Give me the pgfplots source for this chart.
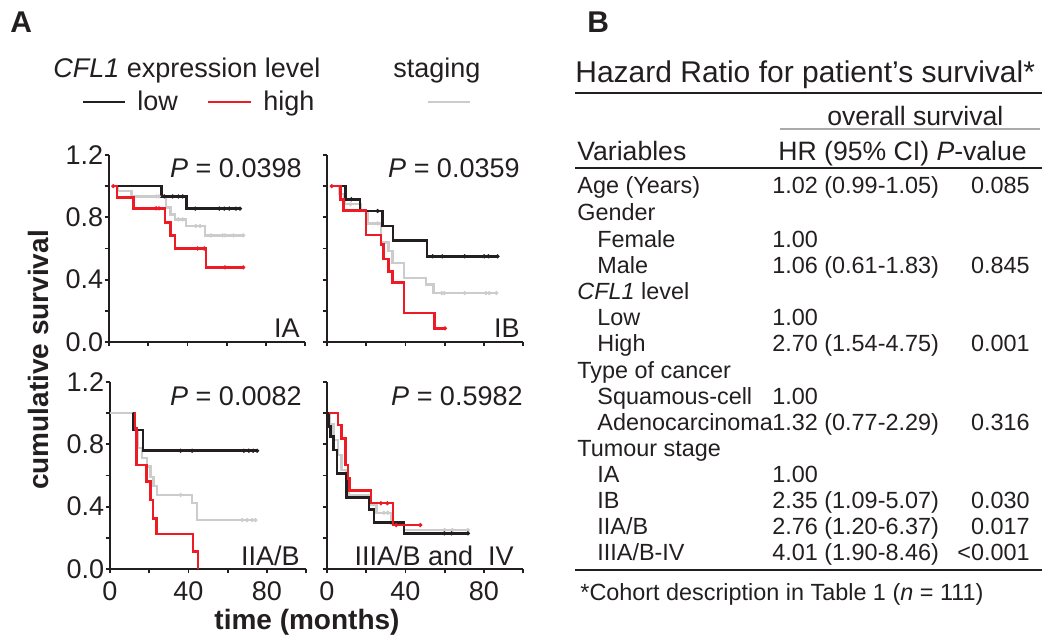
\documentclass[border=0pt]{standalone}
\usepackage{fontspec}
\setmainfont{Liberation Sans}
\usepackage{pgfplots}
\pgfplotsset{compat=1.18}

\definecolor{kmblack}{RGB}{35,31,32}
\definecolor{kmred}{RGB}{237,28,36}
\definecolor{kmgray}{RGB}{204,204,204}
\definecolor{rulegray}{RGB}{170,170,170}

\newcommand\fA{\fontsize{13.5}{16}\selectfont}
\newcommand\fL{\fontsize{14}{16}\selectfont\bfseries}
\newcommand\fT{\fontsize{11.7}{14}\selectfont}
\newcommand\fH{\fontsize{13.3}{15}\selectfont}
\newcommand\fTi{\fontsize{15}{17}\selectfont}

\pgfplotsset{
  km/.style={
    scale only axis, width=98pt, height=93.5pt,
    xmin=0, xmax=100, ymin=0, ymax=1.2,
    axis lines=left, axis line style={-, line width=1.3pt, kmblack},
    xtick={0,40,80}, minor xtick={20,60,100},
    ytick={0,0.4,0.8,1.2}, minor ytick={0.2,0.6,1.0},
    tick align=outside, major tick length=2.2pt, minor tick length=2.2pt,
    tick style={line width=0.9pt, kmblack},
    tick label style={font=\fA, inner sep=0.5pt, text=kmblack,
      /pgf/number format/assume math mode=true},
    y tick label style={/pgf/number format/fixed,
      /pgf/number format/fixed zerofill, /pgf/number format/precision=1},
    x tick label style={yshift=-3.5pt},
    clip=false,
  },
  kml/.style={const plot, line width=1.25pt, mark=none},
  cens/.style={only marks, mark=*, mark size=0.85pt},
}

\begin{document}
\begin{tikzpicture}
\useasboundingbox (0,0) rectangle (525pt,319.5pt);

% IA
\begin{axis}[km, at={(54.5pt,148.5pt)}, anchor=south west, xticklabels={}]
\addplot[kml, kmgray] coordinates {(2.2,1) (4.7,0.97) (11.6,0.934) (29.1,0.863) (31.5,0.819) (33.7,0.787) (39.3,0.744) (49,0.684) (68.5,0.684)};
\addplot[cens, kmgray] coordinates {(24.1,0.934) (25.5,0.934) (35.4,0.787) (37.6,0.787) (44.3,0.744) (46.5,0.744) (52,0.684) (58,0.684) (59.2,0.684) (63.5,0.684) (68.5,0.684)};
\addplot[kml, kmblack] coordinates {(2.2,1) (26.9,0.934) (39.6,0.856) (66.8,0.856)};
\addplot[cens, kmblack] coordinates {(28.2,0.934) (32.5,0.934) (35.4,0.934) (37.6,0.934) (44,0.856) (56.3,0.856) (58.8,0.856) (61.4,0.856) (64.8,0.856) (66.8,0.856)};
\addplot[kml, kmred] coordinates {(2.2,1) (4.2,0.927) (12.4,0.858) (28.6,0.766) (31.5,0.684) (33.7,0.6) (49.5,0.479) (68.5,0.479)};
\addplot[cens, kmred] coordinates {(2.2,1) (24,0.858) (25.5,0.858) (45.2,0.6) (48.6,0.6) (59.2,0.479) (68.5,0.479)};
\end{axis}

% IB
\begin{axis}[km, at={(163.5pt,148.5pt)}, anchor=south west, xticklabels={}, yticklabels={}]
\addplot[kml, kmgray] coordinates {(2.4,1) (6.5,0.95) (9,0.884) (17.4,0.84) (20.8,0.761) (27.5,0.637) (31.5,0.583) (33.3,0.508) (39.2,0.411) (50.4,0.368) (54.3,0.314) (86.4,0.314)};
\addplot[cens, kmgray] coordinates {(12,0.884) (25.8,0.761) (58.5,0.314) (59.8,0.314) (70.2,0.314) (81.1,0.314) (82.8,0.314) (86.4,0.314)};
\addplot[kml, kmblack] coordinates {(2.4,1) (9.5,0.916) (16.9,0.841) (28.3,0.744) (33.7,0.652) (50.9,0.55) (87,0.55)};
\addplot[cens, kmblack] coordinates {(12.4,0.916) (25.8,0.841) (53.9,0.55) (58.8,0.55) (70.2,0.55) (80.2,0.55) (82.3,0.55) (87,0.55)};
\addplot[kml, kmred] coordinates {(2.4,1) (6.9,0.916) (8.5,0.845) (19.9,0.686) (27.5,0.626) (28.8,0.534) (31.3,0.454) (33.3,0.383) (39.2,0.185) (54.8,0.088) (60.2,0.088)};
\addplot[cens, kmred] coordinates {(2.4,1) (60.2,0.088)};
\end{axis}

% IIA/B
\begin{axis}[km, at={(55pt,35pt)}, anchor=south west]
\addplot[kml, kmgray] coordinates {(0,1) (11.8,0.892) (14.2,0.775) (16.4,0.711) (19,0.657) (20.7,0.592) (22.3,0.533) (24.1,0.475) (41.9,0.422) (44.5,0.314) (74.2,0.314)};
\addplot[cens, kmgray] coordinates {(36,0.475) (67.4,0.314) (69.9,0.314) (72.5,0.314) (74.2,0.314)};
\addplot[kml, kmblack] coordinates {(11.5,1) (11.8,0.892) (16.9,0.759) (75.1,0.759)};
\addplot[cens, kmblack] coordinates {(36,0.759) (41.9,0.759) (68.3,0.759) (70.8,0.759) (73,0.759) (75.1,0.759)};
\addplot[kml, kmred] coordinates {(12.1,1) (12.7,0.903) (13.5,0.667) (18.5,0.56) (20.7,0.443) (22,0.325) (23.7,0.225) (42.4,0.111) (44.8,0)};
\end{axis}

% IIIA/B and IV
\begin{axis}[km, at={(163.5pt,35pt)}, anchor=south west, yticklabels={}]
\addplot[kml, kmgray] coordinates {(0,1) (1.5,0.93) (3.2,0.828) (5.7,0.732) (7.4,0.635) (9.9,0.55) (11.2,0.475) (21.6,0.411) (25.3,0.361) (33,0.293) (39.2,0.25) (71.9,0.25)};
\addplot[cens, kmgray] coordinates {(29,0.361) (31,0.361) (60,0.25) (64,0.25) (71.9,0.25)};
\addplot[kml, kmblack] coordinates {(0,1) (0.7,0.913) (1.8,0.849) (3.2,0.764) (5.2,0.614) (9.9,0.458) (21.3,0.383) (24.1,0.297) (39.2,0.229) (71.9,0.229)};
\addplot[cens, kmblack] coordinates {(59.8,0.229) (63.5,0.229) (71.9,0.229)};
\addplot[kml, kmred] coordinates {(1.2,1) (5.7,0.924) (7.4,0.839) (9.5,0.668) (10.7,0.582) (11.6,0.503) (22.4,0.422) (33.7,0.282) (47.6,0.282)};
\addplot[cens, kmred] coordinates {(27.5,0.422) (30.8,0.422) (35.3,0.282) (47.6,0.282)};
\end{axis}

\begin{scope}[x=0.5pt, y=-0.5pt, shift={(0pt,319.5pt)},
  every node/.append style={inner sep=0pt, text=kmblack}]
% panel letters
\node[font=\fontsize{15}{17}\selectfont\bfseries, anchor=base west] at (10,33) {A};
\node[font=\fontsize{15}{17}\selectfont\bfseries, anchor=base west] at (587,33) {B};
% legend
\node[font=\fA, anchor=base west] at (53,78) {\textit{CFL1} expression level};
\node[font=\fA, anchor=base west] at (393,78) {staging};
\draw[kmblack, line width=1.2pt] (83,102) -- (125,102);
\node[font=\fA, anchor=base west] at (137,110) {low};
\draw[kmred, line width=1.2pt] (208,102) -- (251,102);
\node[font=\fA, anchor=base west] at (263,110) {high};
\draw[kmgray, line width=1.2pt] (428,102) -- (470,102);
% panel texts
\node[font=\fA, anchor=base east] at (302,177) {\textit{P} = 0.0398};
\node[font=\fA, anchor=base east] at (520,177) {\textit{P} = 0.0359};
\node[font=\fA, anchor=base east] at (302,405) {\textit{P} = 0.0082};
\node[font=\fA, anchor=base east] at (523,405) {\textit{P} = 0.5982};
\node[font=\fA, anchor=base east] at (300,337) {IA};
\node[font=\fA, anchor=base east] at (520,337) {IB};
\node[font=\fA, anchor=base east] at (300,565) {IIA/B};
\node[font=\fA, anchor=base east] at (514,565) {IIIA/B and\ \ IV};
% axis titles
\node[font=\fL, rotate=90, anchor=center] at (38,360) {cumulative survival};
\node[font=\fL, anchor=base] at (307,629) {time (months)};
% table
\node[font=\fTi, anchor=base west] at (575,82) {Hazard Ratio for patient’s survival*};
\draw[kmblack, line width=1.1pt] (575,93) -- (1042,93);
\node[font=\fH, anchor=base west] at (827,125) {overall survival};
\draw[rulegray, line width=0.9pt] (780,129) -- (1040,129);
\node[font=\fH, anchor=base west] at (577,160) {Variables};
\node[font=\fH, anchor=base west] at (778,160) {HR (95\% CI) \textit{P}-value};
\draw[kmblack, line width=1.1pt] (575,168) -- (1042,168);
\node[font=\fT, anchor=base west] at (577,193) {Age (Years)};
\node[font=\fT, anchor=base west] at (772,193) {1.02 (0.99-1.05)};
\node[font=\fT, anchor=base east] at (1030,193) {0.085};
\node[font=\fT, anchor=base west] at (577,220) {Gender};
\node[font=\fT, anchor=base west] at (597,247) {Female};
\node[font=\fT, anchor=base west] at (772,247) {1.00};
\node[font=\fT, anchor=base west] at (597,273) {Male};
\node[font=\fT, anchor=base west] at (772,273) {1.06 (0.61-1.83)};
\node[font=\fT, anchor=base east] at (1030,273) {0.845};
\node[font=\fT, anchor=base west] at (577,299) {\textit{CFL1} level};
\node[font=\fT, anchor=base west] at (597,325) {Low};
\node[font=\fT, anchor=base west] at (772,325) {1.00};
\node[font=\fT, anchor=base west] at (597,351) {High};
\node[font=\fT, anchor=base west] at (772,351) {2.70 (1.54-4.75)};
\node[font=\fT, anchor=base east] at (1030,351) {0.001};
\node[font=\fT, anchor=base west] at (577,378) {Type of cancer};
\node[font=\fT, anchor=base west] at (597,404) {Squamous-cell};
\node[font=\fT, anchor=base west] at (772,404) {1.00};
\node[font=\fT, anchor=base west] at (597,430) {Adenocarcinoma};
\node[font=\fT, anchor=base west] at (772,430) {1.32 (0.77-2.29)};
\node[font=\fT, anchor=base east] at (1030,430) {0.316};
\node[font=\fT, anchor=base west] at (577,456) {Tumour stage};
\node[font=\fT, anchor=base west] at (597,482) {IA};
\node[font=\fT, anchor=base west] at (772,482) {1.00};
\node[font=\fT, anchor=base west] at (597,508) {IB};
\node[font=\fT, anchor=base west] at (772,508) {2.35 (1.09-5.07)};
\node[font=\fT, anchor=base east] at (1030,508) {0.030};
\node[font=\fT, anchor=base west] at (597,534) {IIA/B};
\node[font=\fT, anchor=base west] at (772,534) {2.76 (1.20-6.37)};
\node[font=\fT, anchor=base east] at (1030,534) {0.017};
\node[font=\fT, anchor=base west] at (597,560) {IIIA/B-IV};
\node[font=\fT, anchor=base west] at (772,560) {4.01 (1.90-8.46)};
\node[font=\fT, anchor=base east] at (1030,560) {<0.001};
\draw[kmblack, line width=1.1pt] (575,570) -- (1042,570);
\node[font=\fT, anchor=base west] at (580,600) {*Cohort description in Table 1 (\textit{n} = 111)};
\end{scope}
\end{tikzpicture}
\end{document}
